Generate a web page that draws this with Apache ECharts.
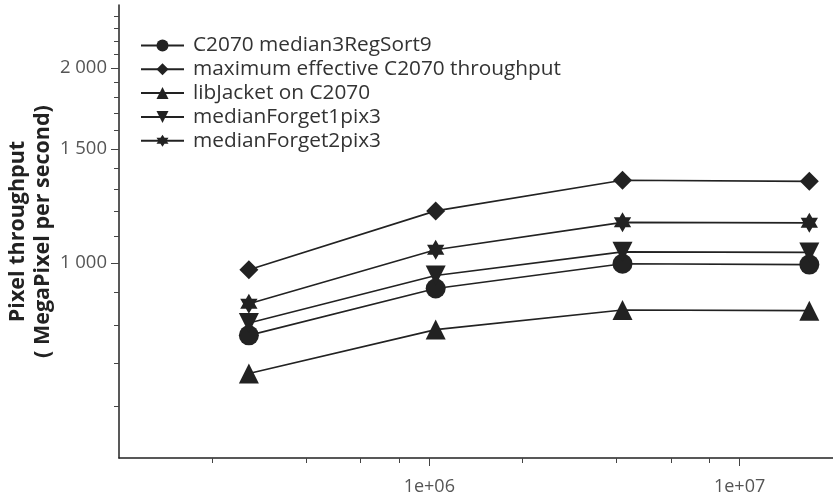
<!DOCTYPE html>
<html>
<head>
<meta charset="utf-8">
<script src="https://cdn.jsdelivr.net/npm/echarts@6/dist/echarts.min.js"></script>
<style>
html, body { margin: 0; padding: 0; background: #fff; }
#chart { width: 833px; height: 497px; }
</style>
</head>
<body>
<div id="chart"></div>
<script>
// image sizes (pixels) on the x axis
var sizes = [262144, 1048576, 4194304, 16777216];

var seriesNames = [
    'C2070 median3RegSort9',
    'maximum effective C2070 throughput',
    'libJacket on C2070',
    'medianForget1pix3',
    'medianForget2pix3'
];
var median3RegSort9 = [773, 913, 997, 994];
var maxEffective = [976, 1203, 1341, 1336];
var libJacket = [675, 789, 846, 844];
var medianForget1pix3 = [808, 956, 1040, 1038];
var medianForget2pix3 = [865, 1048, 1155, 1153];

// axis ticks
var xMajorTicks = [1e6, 1e7];
var xMajorLabels = ['1e+06', '1e+07'];
var xMinorTicks = [2e5, 4e5, 6e5, 8e5, 2e6, 4e6, 6e6, 8e6];
var yMajorTicks = [1000, 1500, 2000];
var yMajorLabels = ['1 000', '1 500', '2 000'];
var yMinorTicks = [600, 700, 800, 900, 1100, 1200, 1300, 1400, 1600, 1700, 1800, 1900, 2100, 2200, 2300, 2400];

var star6 = 'path://M0,-10L2.887,-5L8.66,-5L5.774,0L8.66,5L2.887,5L0,10L-2.887,5L-8.66,5L-5.774,0L-8.66,-5L-2.887,-5Z';

var ink = '#222222';
var font = '"Open Sans", "Noto Sans", sans-serif';

function pairs(vals) {
    return vals.map(function (v, i) { return [sizes[i], v]; });
}
function lookup(ticks, labels) {
    return function (v) {
        for (var i = 0; i < ticks.length; i++) {
            if (Math.abs(ticks[i] - v) / ticks[i] < 1e-6) return labels[i];
        }
        return '';
    };
}

function makeSeries(name, vals, symbol, size, rotate) {
    return {
        name: name,
        type: 'line',
        data: pairs(vals),
        symbol: symbol,
        symbolSize: size,
        symbolRotate: rotate || 0,
        symbolKeepAspect: true,
        showAllSymbol: true,
        color: ink,
        itemStyle: { color: ink },
        lineStyle: { color: ink, width: 1.6 },
        emphasis: { disabled: true },
        animation: false
    };
}

var myChart = echarts.init(document.getElementById('chart'));
var option = {
    backgroundColor: '#fff',
    animation: false,
    grid: { left: 119, right: 0, top: 5, bottom: 39, containLabel: false, outerBoundsMode: 'none' },
    legend: {
        orient: 'vertical',
        left: 140,
        top: 35,
        padding: 0,
        itemWidth: 43,
        itemHeight: 15,
        itemGap: 2.8,
        selectedMode: false,
        data: seriesNames,
        textStyle: { fontFamily: font, fontSize: 20.8, color: '#333', padding: [0, 0, 0, 4] }
    },
    xAxis: [{
        type: 'log',
        min: 1e5,
        max: 2e7,
        axisLine: { show: true, lineStyle: { color: ink, width: 1.5 } },
        axisTick: { show: true, length: 8, customValues: xMajorTicks, lineStyle: { color: '#444' } },
        axisLabel: {
            customValues: xMajorTicks,
            formatter: lookup(xMajorTicks, xMajorLabels),
            fontFamily: font, fontSize: 18, color: '#555', margin: 20
        },
        splitLine: { show: false },
        minorTick: { show: false }
    }, {
        type: 'log',
        min: 1e5,
        max: 2e7,
        position: 'bottom',
        axisLine: { show: false },
        axisTick: { show: true, length: 5, customValues: xMinorTicks, lineStyle: { color: '#444' } },
        axisLabel: { show: false },
        splitLine: { show: false }
    }],
    yAxis: [{
        type: 'log',
        min: 500,
        max: 2500,
        name: 'Pixel throughput\n( MegaPixel per second)',
        nameLocation: 'middle',
        nameRotate: 90,
        nameGap: 64,
        nameMoveOverlap: false,
        nameTextStyle: { fontFamily: font, fontSize: 21.5, fontWeight: 'bold', color: ink, lineHeight: 25, align: 'center' },
        axisLine: { show: true, lineStyle: { color: ink, width: 1.5 } },
        axisTick: { show: true, length: 8, customValues: yMajorTicks, lineStyle: { color: '#444' } },
        axisLabel: {
            customValues: yMajorTicks,
            formatter: lookup(yMajorTicks, yMajorLabels),
            fontFamily: font, fontSize: 18.5, color: '#555', margin: 12
        },
        splitLine: { show: false }
    }, {
        type: 'log',
        min: 500,
        max: 2500,
        position: 'left',
        axisLine: { show: false },
        axisTick: { show: true, length: 5, customValues: yMinorTicks, lineStyle: { color: '#444' } },
        axisLabel: { show: false },
        splitLine: { show: false }
    }],
    series: [
        makeSeries(seriesNames[0], median3RegSort9, 'circle', 20),
        makeSeries(seriesNames[1], maxEffective, 'diamond', 19),
        makeSeries(seriesNames[2], libJacket, 'triangle', 20),
        makeSeries(seriesNames[3], medianForget1pix3, 'triangle', 20, 180),
        makeSeries(seriesNames[4], medianForget2pix3, star6, 20)
    ]
};
myChart.setOption(option);
window.addEventListener('resize', function () { myChart.resize(); });
</script>
</body>
</html>
